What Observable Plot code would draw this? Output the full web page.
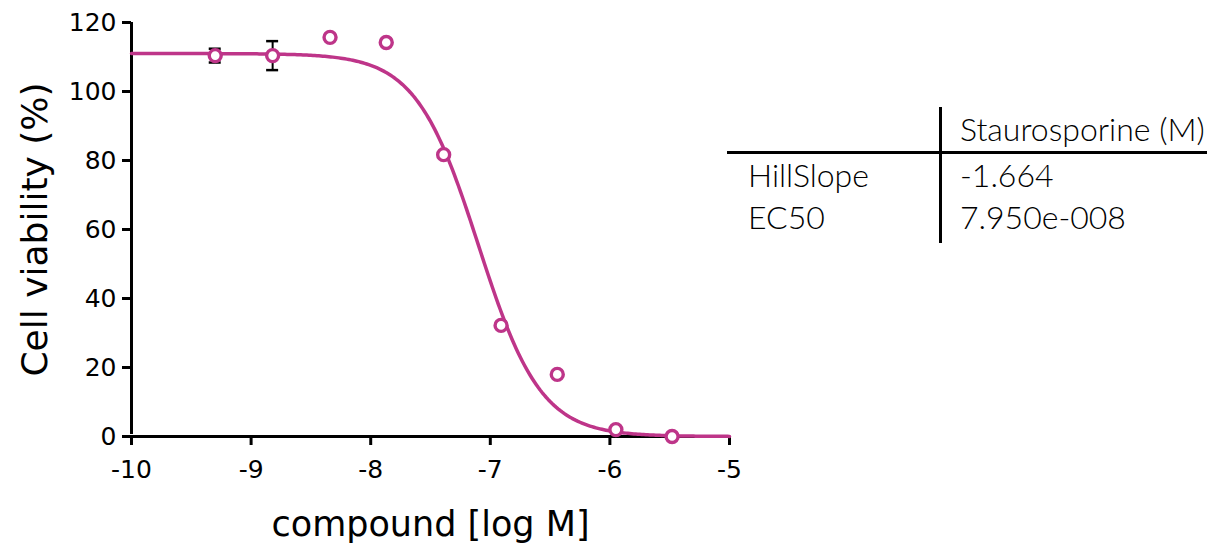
<!DOCTYPE html>
<html>
<head>
<meta charset="utf-8">
<script src="https://cdn.jsdelivr.net/npm/d3@7"></script>
<script src="https://cdn.jsdelivr.net/npm/@observablehq/plot@0.6"></script>
<style>
  html, body { margin: 0; padding: 0; background: #fff; }
  #wrap { position: relative; width: 1207px; height: 546px; }
  #chart { position: absolute; left: 0; top: 0; }
  #table { position: absolute; left: 0; top: 0; width: 1207px; height: 546px; pointer-events: none; font-family: Lato, "Noto Sans", sans-serif; }
  .cell { position: absolute; font-size: 32px; font-weight: 300; color: #000; white-space: nowrap; line-height: 1; }
  .hline { position: absolute; left: 727px; top: 151px; width: 480px; height: 3px; background: #000; }
  .vline { position: absolute; left: 939px; top: 107px; width: 3px; height: 136px; background: #000; }
</style>
</head>
<body>
<div id="wrap">
  <div id="chart"></div>
  <div id="table"></div>
</div>
<script>
// ---- data ----
const logDose = [-9.30, -8.82, -8.34, -7.87, -7.39, -6.91, -6.44, -5.95, -5.48];
const viability = [110.4, 110.4, 115.7, 114.2, 81.7, 32.2, 18.0, 2.0, 0.0];
const errorSD = [2.0, 4.2, 0, 0, 0, 0, 0, 0, 0];

// fit parameters (shown in table)
const fitTop = [111.0];
const fitBottom = [0.0];
const hillSlope = [-1.664];
const ec50 = [7.950e-8];

const xTicks = [-10, -9, -8, -7, -6, -5];
const yTicks = [0, 20, 40, 60, 80, 100, 120];

const tableHeader = ["Staurosporine (M)"];
const tableRows = ["HillSlope", "EC50"];
const tableValues = ["-1.664", "7.950e-008"];

// ---- build ----
const color = "#be3589";
const points = logDose.map((x, i) => ({x, y: viability[i], sd: errorSD[i]}));
const errs = points.filter(d => d.sd > 0);

const logEC50 = Math.log10(ec50[0]);
const curve = d3.range(0, 301).map(i => {
  const x = -10 + i * (5 / 300);
  const y = fitBottom[0] + (fitTop[0] - fitBottom[0]) / (1 + Math.pow(10, (logEC50 - x) * hillSlope[0]));
  return {x, y};
});

const font = "'DejaVu Sans', Lato, sans-serif";

const plot = Plot.plot({
  width: 745,
  height: 546,
  marginLeft: 131,
  marginRight: 16,
  marginTop: 22,
  marginBottom: 110,
  style: {fontFamily: font, background: "transparent"},
  x: {domain: [-10, -5]},
  y: {domain: [0, 120]},
  marks: [
    Plot.axisX({ticks: xTicks, tickSize: 9, tickPadding: 15, fontSize: 25, strokeWidth: 3, label: null, tickFormat: d => d < 0 ? "-" + Math.abs(d) : String(d), fill: "#000"}),
    Plot.axisY({ticks: yTicks, tickSize: 9, tickPadding: 6, fontSize: 25, strokeWidth: 3, label: null, fill: "#000"}),
    Plot.ruleX([-10], {y1: 0, y2: 120, stroke: "#000", strokeWidth: 3, insetTop: -2}),
    Plot.ruleY([0], {stroke: "#000", strokeWidth: 3}),
    Plot.ruleX(errs, {x: "x", y1: d => d.y - d.sd, y2: d => d.y + d.sd, stroke: "#000", strokeWidth: 2}),
    Plot.ruleY(errs, {y: d => d.y - d.sd, x1: "x", x2: "x", insetLeft: -6, insetRight: -6, stroke: "#000", strokeWidth: 2.5}),
    Plot.ruleY(errs, {y: d => d.y + d.sd, x1: "x", x2: "x", insetLeft: -6, insetRight: -6, stroke: "#000", strokeWidth: 2.5}),
    Plot.line(curve, {x: "x", y: "y", stroke: color, strokeWidth: 3.5}),
    Plot.dot(points, {x: "x", y: "y", r: 6, stroke: color, strokeWidth: 3.4, fill: "#fff"}),
    Plot.text(["compound [log M]"], {frameAnchor: "bottom", lineAnchor: "middle", dy: 88, text: d => d, fontSize: 35, fill: "#000"}),
    Plot.text(["Cell viability (%)"], {frameAnchor: "left", textAnchor: "middle", lineAnchor: "middle", dx: -96, rotate: -90, text: d => d, fontSize: 36, fill: "#000"})
  ]
});
document.getElementById("chart").appendChild(plot);

// table (text)
const tbl = document.getElementById("table");
function addCell(text, left, centerY) {
  const el = document.createElement("div");
  el.className = "cell";
  el.textContent = text;
  el.style.left = left + "px";
  el.style.top = (centerY - 17) + "px";
  tbl.appendChild(el);
}
addCell(tableHeader[0], 960, 130);
tableRows.forEach((r, i) => {
  addCell(r, 748, 176 + i * 42);
  addCell(tableValues[i], 960, 176 + i * 42);
});
const h = document.createElement("div"); h.className = "hline"; tbl.appendChild(h);
const v = document.createElement("div"); v.className = "vline"; tbl.appendChild(v);
</script>
</body>
</html>
